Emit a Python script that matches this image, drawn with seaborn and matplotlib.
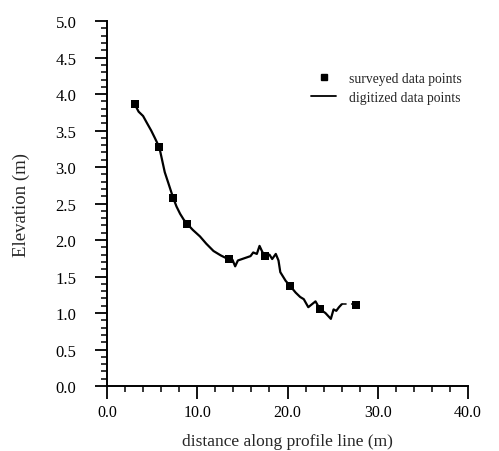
import seaborn as sns
import matplotlib.pyplot as plt
from matplotlib.ticker import MultipleLocator, FormatStrFormatter
from matplotlib.lines import Line2D

# surveyed data points (m)
surveyed_x = [3.1, 5.8, 7.3, 8.9, 13.5, 17.5, 20.3, 23.6, 27.6]
surveyed_y = [3.86, 3.28, 2.58, 2.22, 1.74, 1.78, 1.37, 1.05, 1.11]

digitized_x = [3.0, 3.5, 4.0, 4.4, 4.9, 5.3, 5.8, 6.1, 6.4, 6.8, 7.3, 7.7, 8.1, 8.5, 8.9,
               9.5, 10.3, 11.0, 11.8, 12.6, 13.4, 13.9, 14.2, 14.5, 15.2, 15.9, 16.2,
               16.6, 16.9, 17.2, 17.5, 18.0, 18.3, 18.7, 19.0, 19.2, 19.8, 20.3, 20.9,
               21.4, 21.8, 22.3, 22.7, 23.1, 23.6, 24.2, 24.8, 25.1, 25.4, 25.7, 26.0]
digitized_y = [3.88, 3.76, 3.70, 3.61, 3.50, 3.40, 3.27, 3.10, 2.93, 2.78, 2.59, 2.46, 2.36,
               2.28, 2.22, 2.14, 2.05, 1.95, 1.85, 1.79, 1.74, 1.73, 1.64, 1.72, 1.75, 1.78,
               1.83, 1.81, 1.92, 1.84, 1.78, 1.80, 1.74, 1.81, 1.72, 1.56, 1.44, 1.37, 1.28,
               1.22, 1.19, 1.08, 1.12, 1.16, 1.05, 1.00, 0.92, 1.05, 1.03, 1.08, 1.12]

end_x = [26.0, 27.6]
end_y = [1.12, 1.12]

sns.set_style('ticks')
plt.rcParams['font.family'] = ['Liberation Serif', 'DejaVu Serif']

fig = plt.figure(figsize=(4.99, 4.52), dpi=100)
ax = fig.add_axes([0.2144, 0.1438, 0.7236, 0.8072])

sns.lineplot(x=digitized_x, y=digitized_y, sort=False, color='black', linewidth=1.6, ax=ax)
sns.lineplot(x=end_x, y=end_y, sort=False, color='black', linewidth=1.1,
             linestyle=(0, (3, 3)), ax=ax)
sns.scatterplot(x=surveyed_x, y=surveyed_y, marker='s', color='black', s=30,
                edgecolor='black', linewidth=0, ax=ax, zorder=3)

ax.set_xlim(0, 40)
ax.set_ylim(0, 5)
ax.xaxis.set_major_locator(MultipleLocator(10))
ax.xaxis.set_minor_locator(MultipleLocator(2))
ax.yaxis.set_major_locator(MultipleLocator(0.5))
ax.yaxis.set_minor_locator(MultipleLocator(0.1))
ax.xaxis.set_major_formatter(FormatStrFormatter('%.1f'))
ax.yaxis.set_major_formatter(FormatStrFormatter('%.1f'))
ax.tick_params(which='major', direction='out', length=9, width=1.3, colors='black')
ax.tick_params(which='minor', direction='out', length=4.5, width=1.1, colors='black')
ax.tick_params(axis='y', which='major', labelsize=12, pad=13)
ax.tick_params(axis='x', which='major', labelsize=11.5, pad=4)
sns.despine(ax=ax)
for side in ['left', 'bottom']:
    ax.spines[side].set_linewidth(1.4)
    ax.spines[side].set_color('black')

ax.set_xlabel('distance along profile line (m)', fontsize=12.5, labelpad=9)
ax.set_ylabel('Elevation (m)', fontsize=13.5, labelpad=18)

handles = [Line2D([], [], marker='s', color='black', linestyle='none', markersize=4.8),
           Line2D([], [], color='black', linewidth=1.3)]
ax.legend(handles, ['surveyed data points', 'digitized data points'], frameon=False,
          fontsize=9.8, loc='upper left', bbox_to_anchor=(0.53, 0.895), handlelength=1.9,
          handletextpad=0.9, labelspacing=0.45)

fig.savefig('out.png', dpi=100)
